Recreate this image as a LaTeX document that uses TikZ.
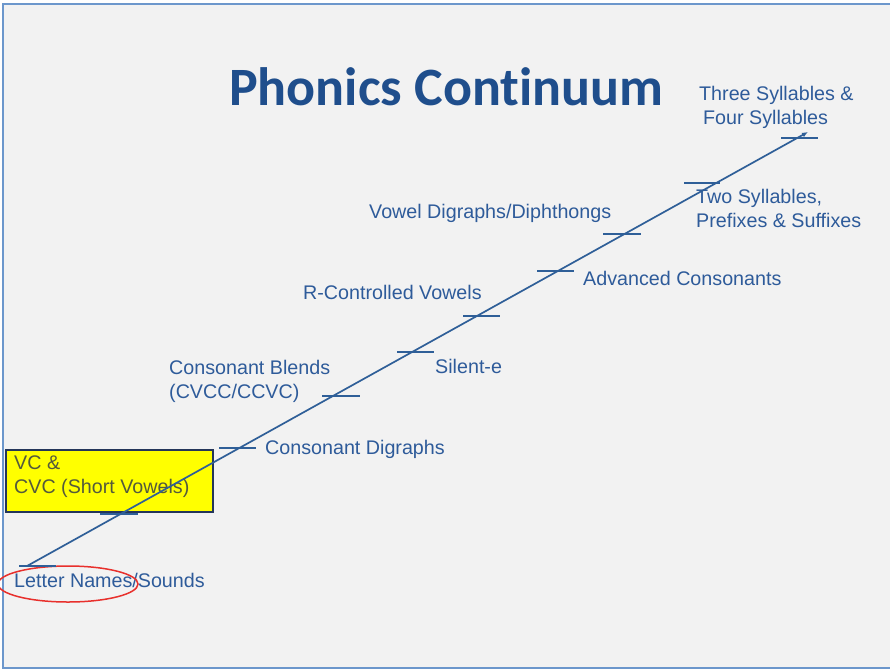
\documentclass[tikz,border=0pt]{standalone}
\usepackage{fontspec}
\setmainfont{Liberation Sans}
\newfontfamily\headfont{Carlito}[Ligatures=NoCommon]
\usetikzlibrary{arrows.meta}

\definecolor{slidebg}{HTML}{F2F2F2}
\definecolor{frameblue}{HTML}{6C97CC}
\definecolor{labelblue}{HTML}{2E5B9A}
\definecolor{titleblue}{HTML}{1F4E8C}
\definecolor{axisblue}{HTML}{2F5F98}
\definecolor{boxedge}{HTML}{24365A}
\definecolor{boxfill}{HTML}{FFFF00}
\definecolor{boxtext}{HTML}{545A3C}
\definecolor{ringred}{HTML}{E8302C}

\begin{document}
\begin{tikzpicture}[x=1pt, y=-1pt,
  lbl/.style={anchor=base west, inner sep=0pt, text=labelblue,
    font=\fontsize{19.7}{24}\selectfont, align=left},
  tickmark/.style={draw=axisblue, line width=1.7pt},
  axis/.style={draw=axisblue, line width=1.7pt,
    -{Latex[length=6pt, width=5pt]}},
  levelbox/.style={draw=boxedge, fill=boxfill, line width=1.5pt,
    anchor=north west, minimum width=207pt, minimum height=62pt, inner sep=0pt},
  ring/.style={draw=ringred, line width=1.5pt}]

% slide background and frame
\useasboundingbox (0,0) rectangle (890,669);
\fill[white] (0,0) rectangle (890,669);
\fill[slidebg] (3,5) rectangle (890,667);
\draw[frameblue, line width=2pt] (890,4.5) -- (2.5,4.5) -- (2.5,667.5) -- (890,667.5);

% title
\node[anchor=base west, inner sep=0pt, text=titleblue,
  font=\headfont\bfseries\fontsize{54}{60}\selectfont] (title) at (229,105) {Phonics Continuum};

% highlighted stage (multi-line labels are placed by their last baseline)
\node[levelbox] (vcbox) at (5,449) {};
\node[lbl, text=boxtext] (vc) at (14,493) {VC \&\\CVC (Short Vowels)};

% stage labels
\node[lbl] (letters) at (14,587) {Letter Names/Sounds};
\node[lbl] (cdig) at (265,454) {Consonant Digraphs};
\node[lbl] (blends) at (169,398) {Consonant Blends\\(CVCC/CCVC)};
\node[lbl] (silente) at (435,373) {Silent-e};
\node[lbl] (rcontrol) at (303,299) {R-Controlled Vowels};
\node[lbl] (vdig) at (369,218) {Vowel Digraphs/Diphthongs};
\node[lbl] (advcons) at (583,285) {Advanced Consonants};
\node[lbl] (twosyl) at (696,227) {Two Syllables,\\Prefixes \& Suffixes};
\node[lbl] (threesyl) at (699,124) {Three Syllables \&\\\hspace*{4pt}Four Syllables};

% ring around the first stage
\draw[ring] (68,584) ellipse [x radius=70pt, y radius=18pt];

% tick marks along the continuum
\foreach \a/\b/\y in {19/56/566, 100/138/514, 219/256/448, 322/360/396,
  397/434/352, 463/500/316, 537/574/271, 603/641/234, 684/720/183, 781/818/138}
  \draw[tickmark] (\a,\y) -- (\b,\y);

% the continuum
\coordinate (start) at (27,566);
\coordinate (finish) at (808,132);
\draw[axis] (start) -- (finish);

\end{tikzpicture}
\end{document}
